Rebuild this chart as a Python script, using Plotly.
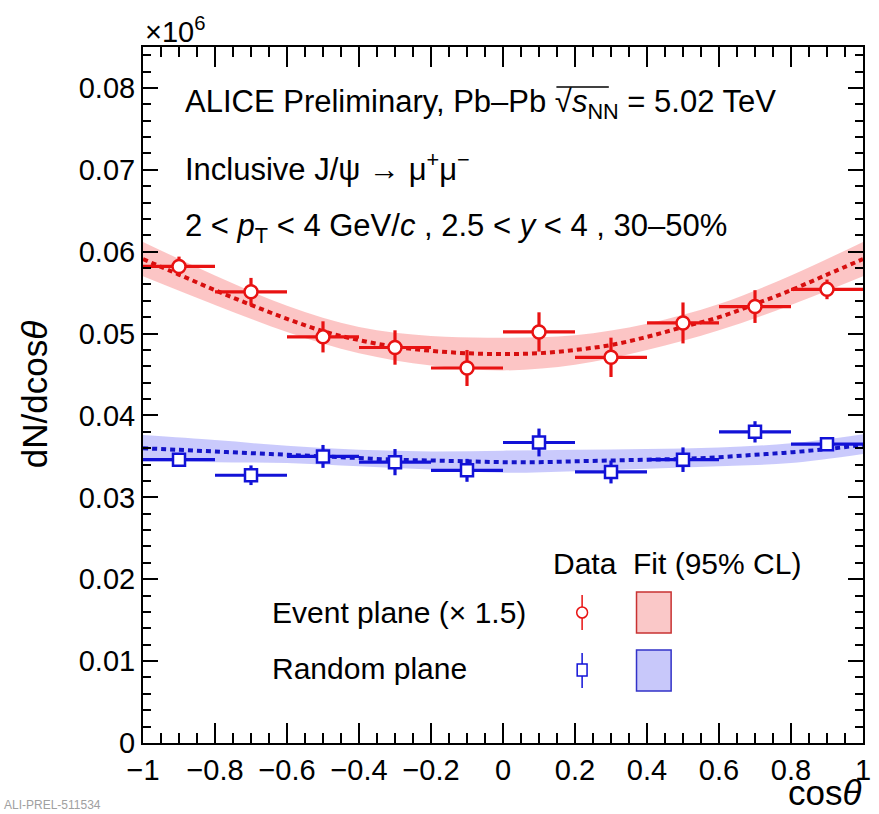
import plotly.graph_objects as go

# ---------------- data ----------------
cos_bins = [-0.9, -0.7, -0.5, -0.3, -0.1, 0.1, 0.3, 0.5, 0.7, 0.9]
bin_half_width = [0.1, 0.1, 0.1, 0.1, 0.1, 0.1, 0.1, 0.1, 0.1, 0.1]

ep_values = [0.0582, 0.0551, 0.0496, 0.0483, 0.0458, 0.0502, 0.0471, 0.0513, 0.0533, 0.0554]
ep_errors = [0.0012, 0.0017, 0.0019, 0.0021, 0.0022, 0.0024, 0.0024, 0.0025, 0.0020, 0.0012]

rp_values = [0.0346, 0.0327, 0.0350, 0.0343, 0.0333, 0.0367, 0.0331, 0.0346, 0.0380, 0.0365]
rp_errors = [0.0006, 0.0012, 0.0014, 0.0016, 0.0014, 0.0017, 0.0014, 0.0015, 0.0013, 0.0007]

fit_x = [-1.0, -0.9, -0.8, -0.7, -0.6, -0.5, -0.4, -0.3, -0.2, -0.1, 0.0,
         0.1, 0.2, 0.3, 0.4, 0.5, 0.6, 0.7, 0.8, 0.9, 1.0]
ep_fit = [0.0591, 0.0572, 0.0553, 0.0535, 0.0518, 0.0503, 0.0492, 0.0484, 0.0479, 0.0476, 0.0475,
          0.0476, 0.0480, 0.0486, 0.0496, 0.0508, 0.0520, 0.0536, 0.0553, 0.0572, 0.0591]
rp_fit = [0.0360, 0.0358, 0.0356, 0.0354, 0.0352, 0.0350, 0.0348, 0.0346, 0.0345, 0.0344, 0.0343,
          0.0343, 0.0344, 0.0345, 0.0346, 0.0347, 0.0349, 0.0352, 0.0355, 0.0359, 0.0364]

band_x = [-1.0, -0.8, -0.6, -0.4, -0.2, 0.0, 0.2, 0.4, 0.6, 0.8, 1.0]
ep_band_low = [0.0570, 0.0535, 0.0502, 0.0476, 0.0461, 0.0455, 0.0462, 0.0480, 0.0504, 0.0535, 0.0570]
ep_band_high = [0.0612, 0.0571, 0.0534, 0.0508, 0.0497, 0.0495, 0.0498, 0.0512, 0.0536, 0.0571, 0.0612]
rp_band_low = [0.0344, 0.0343, 0.0342, 0.0338, 0.0334, 0.0330, 0.0332, 0.0335, 0.0338, 0.0342, 0.0353]
rp_band_high = [0.0376, 0.0370, 0.0363, 0.0358, 0.0356, 0.0357, 0.0358, 0.0359, 0.0361, 0.0366, 0.0377]

x_tickvals = [-1, -0.8, -0.6, -0.4, -0.2, 0, 0.2, 0.4, 0.6, 0.8, 1]
y_tickvals = [0, 0.01, 0.02, 0.03, 0.04, 0.05, 0.06, 0.07, 0.08]

# ---------------- style ----------------
RED = "rgb(232,18,18)"
RED_FIT = "rgb(215,15,15)"
RED_BAND = "rgba(245,80,80,0.33)"
BLUE = "rgb(18,18,215)"
BLUE_FIT = "rgb(20,20,200)"
BLUE_BAND = "rgba(80,80,245,0.30)"
FONT = "Liberation Sans, Arial, Helvetica, sans-serif"

W, H = 879, 814
ML, MR, MT, MB = 143, 8, 47, 71
PW, PH = W - ML - MR, H - MT - MB


def px(x):
    return (x - ML) / PW


def py(y):
    return (H - MB - y) / PH


fig = go.Figure()

# bands
for lo, hi, col in [(ep_band_low, ep_band_high, RED_BAND), (rp_band_low, rp_band_high, BLUE_BAND)]:
    fig.add_trace(go.Scatter(x=band_x, y=lo, mode="lines", line=dict(width=0, shape="spline"),
                             showlegend=False, hoverinfo="skip"))
    fig.add_trace(go.Scatter(x=band_x, y=hi, mode="lines", line=dict(width=0, shape="spline"),
                             fill="tonexty", fillcolor=col, showlegend=False, hoverinfo="skip"))

# fit lines
fig.add_trace(go.Scatter(x=fit_x, y=ep_fit, mode="lines",
                         line=dict(color=RED_FIT, width=4, dash="5px,4px", shape="spline"),
                         showlegend=False))
fig.add_trace(go.Scatter(x=fit_x, y=rp_fit, mode="lines",
                         line=dict(color=BLUE_FIT, width=4, dash="5px,4px", shape="spline"),
                         showlegend=False))

# data points
fig.add_trace(go.Scatter(
    x=cos_bins, y=ep_values, mode="markers",
    marker=dict(symbol="circle", size=13, color="white", line=dict(color=RED, width=2.5)),
    error_x=dict(type="data", array=bin_half_width, color=RED, thickness=3.2, width=0),
    error_y=dict(type="data", array=ep_errors, color=RED, thickness=3.2, width=0),
    showlegend=False))
fig.add_trace(go.Scatter(
    x=cos_bins, y=rp_values, mode="markers",
    marker=dict(symbol="square", size=12, color="white", line=dict(color=BLUE, width=2.5)),
    error_x=dict(type="data", array=bin_half_width, color=BLUE, thickness=3.2, width=0),
    error_y=dict(type="data", array=rp_errors, color=BLUE, thickness=3.2, width=0),
    showlegend=False))

axis_common = dict(
    showgrid=False, zeroline=False, showline=True, linecolor="black", linewidth=2,
    mirror="ticks", ticks="inside", tickcolor="black", tickwidth=2,
    tickfont=dict(family=FONT, size=29, color="black"),
)

fig.update_xaxes(range=[-1, 1], tickvals=x_tickvals, ticklen=20,
                 minor=dict(dtick=0.05, ticks="inside", ticklen=10, tickcolor="black", tickwidth=2),
                 **axis_common)
fig.update_yaxes(range=[0, 0.085], tickvals=y_tickvals, ticklen=15,
                 minor=dict(dtick=0.002, ticks="inside", ticklen=8, tickcolor="black", tickwidth=2),
                 **axis_common)

annotations = []


def txt(x, y, text, size=31, xanchor="left", yanchor="middle", angle=0, color="black"):
    annotations.append(dict(x=px(x), y=py(y), xref="paper", yref="paper", text=text,
                            showarrow=False, xanchor=xanchor, yanchor=yanchor, textangle=angle,
                            font=dict(family=FONT, size=size, color=color)))


txt(143, 30, "×10<sup>6</sup>", size=29)
txt(183, 104, "ALICE Preliminary, Pb–Pb √<i>s</i><sub>NN</sub> = 5.02 TeV")
txt(183, 167, "Inclusive J/ψ → μ<sup>+</sup>μ<sup>−</sup>")
txt(183, 228, "2 &lt; <i>p</i><sub>T</sub> &lt; 4 GeV/<i>c</i> , 2.5 &lt; <i>y</i> &lt; 4 , 30–50%")
txt(556, 563, "Data  Fit (95% CL)", size=30)
txt(271, 612, "Event plane (× 1.5)", size=30)
txt(271, 668, "Random plane", size=30)
txt(871, 814, "cos<i>θ</i>", size=35, xanchor="right", yanchor="bottom")
txt(33, 395, "dN/dcos<i>θ</i>", size=35, xanchor="center", angle=-90)
txt(0, 814, "ALI-PREL-511534", size=12, yanchor="bottom", color="rgb(160,160,160)")
fig.update_layout(annotations=annotations)

shapes = []
# overline of the square root
shapes.append(dict(type="line", xref="paper", yref="paper", x0=px(561), x1=px(614), y0=py(87), y1=py(87),
                   line=dict(color="black", width=1.5)))
# legend markers
shapes.append(dict(type="line", xref="paper", yref="paper", x0=px(587), x1=px(587), y0=py(595), y1=py(630),
                   line=dict(color=RED, width=1.5)))
shapes.append(dict(type="circle", xref="paper", yref="paper", x0=px(581.5), x1=px(592.5), y0=py(607), y1=py(618),
                   line=dict(color=RED, width=1.5), fillcolor="white"))
shapes.append(dict(type="line", xref="paper", yref="paper", x0=px(587), x1=px(587), y0=py(653), y1=py(688),
                   line=dict(color=BLUE, width=1.5)))
shapes.append(dict(type="rect", xref="paper", yref="paper", x0=px(582), x1=px(592), y0=py(664), y1=py(676),
                   line=dict(color=BLUE, width=1.5), fillcolor="white"))
shapes.append(dict(type="rect", xref="paper", yref="paper", x0=px(642), x1=px(677), y0=py(592), y1=py(633),
                   line=dict(color="rgb(200,50,50)", width=1.5), fillcolor="rgb(250,200,200)"))
shapes.append(dict(type="rect", xref="paper", yref="paper", x0=px(642), x1=px(677), y0=py(650), y1=py(691),
                   line=dict(color="rgb(50,50,200)", width=1.5), fillcolor="rgb(200,200,250)"))
fig.update_layout(shapes=shapes)

fig.update_layout(
    width=W, height=H,
    margin=dict(l=ML, r=MR, t=MT, b=MB, pad=0),
    paper_bgcolor="white", plot_bgcolor="white",
    showlegend=False,
)

fig.write_html("out.html")
